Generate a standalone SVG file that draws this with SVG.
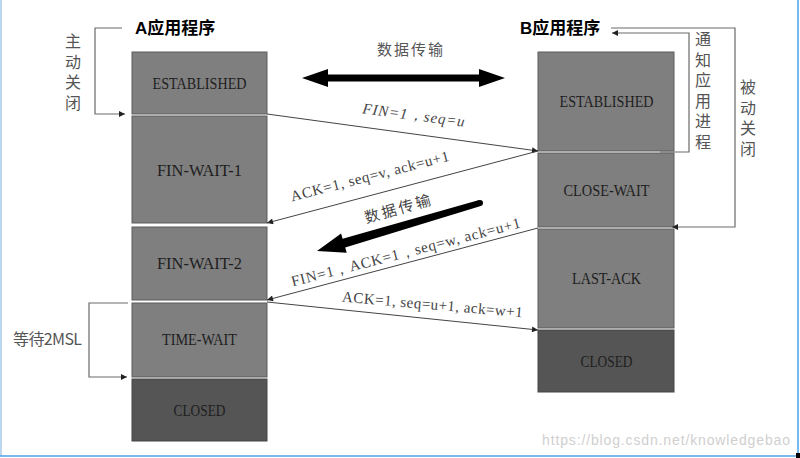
<svg xmlns="http://www.w3.org/2000/svg" width="800" height="458" viewBox="0 0 800 458">
<style>
.box{fill:#7f7f7f;stroke:#5c5c5c;stroke-width:1}
.dark{fill:#555555;stroke:#444444;stroke-width:1}
.st{font-family:"Liberation Serif",serif;font-size:17px;fill:#1e1e1e;text-anchor:middle}
.title{font-family:"Liberation Sans","Noto Sans CJK SC",sans-serif;font-size:17px;font-weight:bold;fill:#000}
.cn{font-family:"Noto Sans CJK SC",sans-serif;font-size:16px;fill:#555555;text-anchor:middle}
.vt{font-family:"Noto Sans CJK SC",sans-serif;font-size:16px;fill:#555555;writing-mode:vertical-rl;text-anchor:start;letter-spacing:4.5px}
.lbl{font-family:"Liberation Serif",serif;font-size:15px;fill:#444444;text-anchor:middle}
.conn{stroke:#444444;stroke-width:1;fill:none;marker-end:url(#ah)}
.br{stroke:#6a6a6a;stroke-width:1.2;fill:none;marker-end:url(#ah)}
</style>
<defs>
<marker id="ah" viewBox="0 0 10 10" refX="10" refY="5" markerWidth="8" markerHeight="6" markerUnits="userSpaceOnUse" orient="auto">
<path d="M0,0 L10,5 L0,10 z" fill="#222"/>
</marker>
</defs>
<rect width="800" height="458" fill="#ffffff"/>
<line x1="1" y1="0" x2="1" y2="456" stroke="#bcd6ee" stroke-width="2"/>
<line x1="798" y1="0" x2="798" y2="456" stroke="#4da3e8" stroke-width="1.5"/>
<line x1="0" y1="456" x2="800" y2="456" stroke="#4da3e8" stroke-width="1.5"/>
<rect x="796" y="453" width="4" height="5" fill="#000"/>

<text class="title" x="135" y="34">A应用程序</text>
<text class="title" x="520" y="34">B应用程序</text>

<g id="a-established"><rect class="box" x="132" y="52" width="135" height="62"/><text class="st" x="199.5" y="89" textLength="94" lengthAdjust="spacingAndGlyphs">ESTABLISHED</text></g>
<g id="a-finwait1"><rect class="box" x="132" y="116" width="135" height="107"/><text class="st" x="199.5" y="176" textLength="85" lengthAdjust="spacingAndGlyphs">FIN-WAIT-1</text></g>
<g id="a-finwait2"><rect class="box" x="132" y="227" width="135" height="73"/><text class="st" x="199.5" y="269" textLength="85" lengthAdjust="spacingAndGlyphs">FIN-WAIT-2</text></g>
<g id="a-timewait"><rect class="box" x="132" y="303" width="135" height="74"/><text class="st" x="199.5" y="345" textLength="75" lengthAdjust="spacingAndGlyphs">TIME-WAIT</text></g>
<g id="a-closed"><rect class="dark" x="132" y="379" width="135" height="62"/><text class="st" x="199.5" y="416" textLength="52" lengthAdjust="spacingAndGlyphs">CLOSED</text></g>

<g id="b-established"><rect class="box" x="538" y="52" width="136" height="99"/><text class="st" x="606.5" y="107" textLength="94" lengthAdjust="spacingAndGlyphs">ESTABLISHED</text></g>
<g id="b-closewait"><rect class="box" x="538" y="153" width="136" height="74"/><text class="st" x="606.5" y="196" textLength="86" lengthAdjust="spacingAndGlyphs">CLOSE-WAIT</text></g>
<g id="b-lastack"><rect class="box" x="538" y="229" width="136" height="99"/><text class="st" x="606.5" y="284" textLength="69" lengthAdjust="spacingAndGlyphs">LAST-ACK</text></g>
<g id="b-closed"><rect class="dark" x="538" y="330" width="136" height="62"/><text class="st" x="606.5" y="367" textLength="52" lengthAdjust="spacingAndGlyphs">CLOSED</text></g>

<g id="side-labels">
<text class="vt" x="73" y="33">主动关闭</text>
<text class="vt" x="703" y="31">通知应用进程</text>
<text class="vt" x="748" y="79">被动关闭</text>
<text class="cn" x="13" y="345" style="text-anchor:start" textLength="69">等待2MSL</text>
<text class="cn" x="377" y="55" style="font-size:15px;text-anchor:start" textLength="66">数据传输</text>
</g>

<g id="connectors">
<polyline class="br" points="122,28 95,28 95,114 125,114"/>
<polyline class="br" points="660,152 689,152 689,33 612,33"/>
<polyline class="br" points="611,28 735,28 735,227 672,227"/>
<polyline class="br" points="128,303 89,303 89,377 127,377"/>

<line class="conn" x1="267" y1="114" x2="538" y2="151"/>
<line class="conn" x1="538" y1="151" x2="267" y2="223"/>
<line class="conn" x1="538" y1="228" x2="267" y2="300"/>
<line class="conn" x1="267" y1="302" x2="538" y2="330"/>

<polygon points="302,78 328,69 328,74.5 479,74.5 479,69 505,78 479,87 479,81.5 328,81.5 328,87" fill="#000"/>
<polygon points="479.2,200.1 342.6,238.8 341.1,233.5 317,251 346.7,252.7 345.2,247.4 480.8,205.9" fill="#000"/>
<circle cx="480" cy="203" r="3" fill="#000"/>
</g>

<g id="connector-labels">
<text class="lbl" transform="translate(413,120) rotate(7.5)" style="font-style:italic" textLength="103">FIN=1，seq=u</text>
<text class="lbl" transform="translate(371,181) rotate(-14.5)" textLength="163">ACK=1, seq=v, ack=u+1</text>
<text class="lbl" transform="translate(407,257) rotate(-14.5)" textLength="236">FIN=1，ACK=1，seq=w, ack=u+1</text>
<text class="lbl" transform="translate(432,309.5) rotate(5)" textLength="181">ACK=1, seq=u+1, ack=w+1</text>
<text class="cn" transform="translate(399,214) rotate(-16)" style="font-size:15px;fill:#444" textLength="68">数据传输</text>
</g>

<text x="542" y="445" font-family="Liberation Sans, sans-serif" font-size="14" fill="#cfcfcf" textLength="248">https://blog.csdn.net/knowledgebao</text>
</svg>
